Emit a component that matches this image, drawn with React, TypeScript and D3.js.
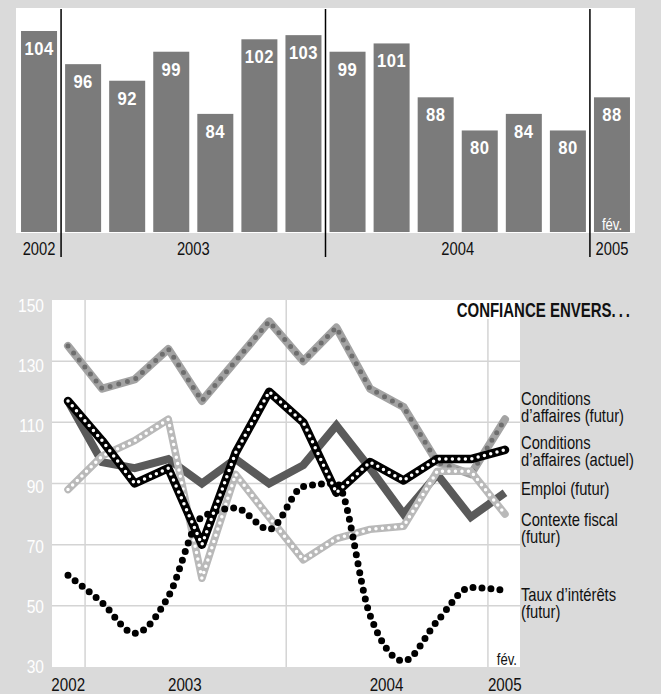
import React from 'react';
import * as d3 from 'd3';

const W = 661;
const H = 694;
const FONT = "'Liberation Sans', Arial, sans-serif";

// indice synthétique, une barre par enquête
const barYears = ['2002', '2003', '2003', '2003', '2003', '2003', '2003', '2004', '2004', '2004', '2004', '2004', '2004', '2005'];
const barValues = [104, 96, 92, 99, 84, 102, 103, 99, 101, 88, 80, 84, 80, 88];

// dates des enquêtes (graphique du bas)
const surveyDates = [
  '2002-12-01', '2003-02-01', '2003-04-01', '2003-06-01', '2003-08-01', '2003-10-01', '2003-12-01',
  '2004-02-01', '2004-04-01', '2004-06-01', '2004-08-01', '2004-10-01', '2004-12-01', '2005-02-01',
];
const caFutur = [135, 121, 124, 134, 117, 130, 143, 130, 141, 121, 115, 97, 93, 111];
const caActuel = [117, 104, 90, 95, 70, 100, 120, 110, 87, 97, 91, 98, 98, 101];
const emploi = [117, 97, 95, 98, 90, 98, 90, 96, 109, 95, 80, 93, 79, 87];
const fiscal = [88, 99, 104, 111, 59, 93, 79, 65, 72, 75, 76, 94, 94, 80];
const taux = [60, 51, 41, 53, 79, 82, 75, 89, 90, 47, 32, 45, 56, 55];

const yTicks = [30, 50, 70, 90, 110, 130, 150];
const yearLines = ['2003-01-01', '2004-01-01', '2005-01-01'];
const yearLabels = [
  { text: '2002', date: '2003-01-01', anchor: 'end' },
  { text: '2003', date: '2003-07-01', anchor: 'middle' },
  { text: '2004', date: '2004-07-01', anchor: 'middle' },
  { text: '2005', date: '2005-01-01', anchor: 'start' },
];

const legend = [
  { lines: ['Conditions', 'd\u2019affaires (futur)'], y: 405 },
  { lines: ['Conditions', 'd\u2019affaires (actuel)'], y: 449 },
  { lines: ['Emploi (futur)'], y: 495 },
  { lines: ['Contexte fiscal', '(futur)'], y: 526 },
  { lines: ['Taux d\u2019int\u00e9r\u00eats', '(futur)'], y: 601 },
];

const parse = d3.timeParse('%Y-%m-%d');

// no condensed font installed -> squeeze horizontally
const NText = ({ x, y, size = 18, anchor = 'start', fill = '#111', weight = 'normal', sx = 0.82, ls = 0, children }: any) => (
  <text transform={`translate(${x},${y}) scale(${sx},1)`} textAnchor={anchor} fontSize={size}
    fontWeight={weight} fill={fill} letterSpacing={ls}>{children}</text>
);

export default function App() {
  // ---- top bars
  const xb = d3.scaleBand<number>()
    .domain(barValues.map((_, i) => i))
    .range([17, 634])
    .paddingInner(0.183)
    .paddingOuter(0.0915);
  const yb = d3.scaleLinear().domain([55.5, 104]).range([232, 31]);
  const gap = xb.step() * xb.paddingInner();

  const groups = Array.from(d3.group(barValues.map((v, i) => ({ v, i, year: barYears[i] })), d => d.year),
    ([year, items]) => ({ year, first: items[0].i, last: items[items.length - 1].i }));

  // ---- bottom lines
  const dates = surveyDates.map(d => parse(d) as Date);
  const x = d3.scaleTime().domain([dates[0], dates[dates.length - 1]]).range([68, 505]);
  const y = d3.scaleLinear().domain([30, 150]).range([667, 300]);
  const yLab = d3.scaleLinear().domain([30, 150]).range([673, 312]);

  const line = d3.line<number>().x((_, i) => x(dates[i])).y(d => y(d));
  const curve = d3.line<number>().x((_, i) => x(dates[i])).y(d => y(d)).curve(d3.curveMonotoneX);

  return (
    <svg width={W} height={H} style={{ position: 'absolute', left: 0, top: 0 }} fontFamily={FONT}>
      <rect width={W} height={H} fill="#dadada" />

      {/* barres */}
      <rect x={16} y={8} width={619} height={225} fill="#fff" />
      {barValues.map((v, i) => (
        <g key={i}>
          <rect x={xb(i)} y={yb(v)} width={xb.bandwidth()} height={232 - yb(v)} fill="#7b7b7b" />
          <NText x={xb(i)! + xb.bandwidth() / 2} y={yb(v) + 24} anchor="middle" fill="#fff"
            size={18.5} weight="bold" sx={0.9} ls={0.5}>{v}</NText>
        </g>
      ))}
      <NText x={xb(13)! + xb.bandwidth() / 2} y={230} anchor="middle" fill="#fff" size={16}>fév.</NText>
      {groups.slice(1).map(g => (
        <line key={g.year} x1={xb(g.first)! - gap / 2} x2={xb(g.first)! - gap / 2} y1={9} y2={257}
          stroke="#000" strokeWidth={1.5} />
      ))}
      {groups.map(g => (
        <NText key={g.year} x={(xb(g.first)! + xb(g.last)! + xb.bandwidth()) / 2} y={255}
          anchor="middle">{g.year}</NText>
      ))}

      {/* lignes */}
      <rect x={52} y={300} width={468} height={367} fill="#fff" />
      {yTicks.slice(1, -1).map(t => (
        <line key={t} x1={52} x2={520} y1={y(t)} y2={y(t)} stroke="#d4d4d4" strokeWidth={1.5} />
      ))}
      {yearLines.map(d => (
        <line key={d} x1={x(parse(d)!)} x2={x(parse(d)!)} y1={300} y2={667} stroke="#d4d4d4" strokeWidth={1.5} />
      ))}
      {yTicks.map(t => (
        <NText key={t} x={44} y={yLab(t)} anchor="end" fill="#fff" size={19}>{t}</NText>
      ))}
      {yearLabels.map(l => (
        <NText key={l.text} x={x(parse(l.date)!)} y={691} anchor={l.anchor} size={18.5}>{l.text}</NText>
      ))}
      <NText x={517} y={665} anchor="end" size={16}>fév.</NText>

      <path d={line(caFutur)!} fill="none" stroke="#a3a3a3" strokeWidth={8} strokeLinejoin="round" strokeLinecap="round" />
      <path d={line(caFutur)!} fill="none" stroke="#6e6e6e" strokeWidth={5} strokeDasharray="0 9" strokeLinecap="round" />

      <path d={line(emploi)!} fill="none" stroke="#5a5a5a" strokeWidth={8} strokeLinejoin="miter" />

      <path d={line(fiscal)!} fill="none" stroke="#b9b9b9" strokeWidth={7.5} strokeLinejoin="round" strokeLinecap="round" />
      <path d={line(fiscal)!} fill="none" stroke="#fff" strokeWidth={3.5} strokeDasharray="0 6.5" strokeLinecap="round" />

      <path d={curve(taux)!} fill="none" stroke="#000" strokeWidth={7} strokeDasharray="0 9" strokeLinecap="round" />

      <path d={line(caActuel)!} fill="none" stroke="#000" strokeWidth={8.5} strokeLinejoin="round" strokeLinecap="round" />
      <path d={line(caActuel)!} fill="none" stroke="#fff" strokeWidth={3.5} strokeDasharray="0 6.5" strokeLinecap="round" />

      {/* titre */}
      <rect x={455} y={300} width={65} height={19} fill="#fff" />
      <NText x={633} y={317} anchor="end" size={20} weight="bold" sx={0.75}>
        CONFIANCE ENVERS<tspan letterSpacing={4}>...</tspan>
      </NText>

      {/* légende */}
      {legend.map(l => l.lines.map((s, k) => (
        <NText key={l.y + '-' + k} x={521} y={l.y + k * 17}>{s}</NText>
      )))}
    </svg>
  );
}
